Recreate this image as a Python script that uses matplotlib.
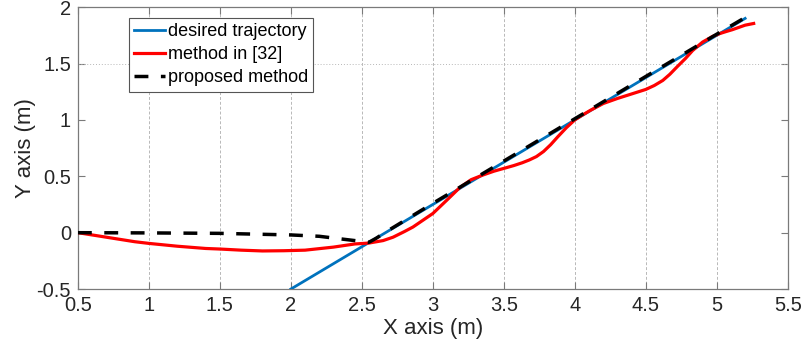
import matplotlib
matplotlib.use("Agg")
import matplotlib.pyplot as plt

plt.rcParams['font.family'] = ['Liberation Sans', 'DejaVu Sans']
plt.rcParams['axes.unicode_minus'] = False

# desired straight-line trajectory
desired_x = [2.0, 5.2]
desired_y = [-0.5, 1.9]

# trajectory obtained with the method in [32]
ref_x = [0.5, 0.7, 0.9, 1.0, 1.2, 1.4, 1.5, 1.65, 1.8, 1.95, 2.1, 2.3, 2.45, 2.55,
         2.65, 2.72, 2.8, 2.86, 2.93, 3.0, 3.1, 3.19, 3.27, 3.35, 3.43, 3.5, 3.57,
         3.63, 3.68, 3.73, 3.78, 3.83, 3.88, 3.94, 4.0, 4.05, 4.11, 4.2, 4.3, 4.4,
         4.5, 4.56, 4.62, 4.67, 4.72, 4.78, 4.83, 4.9, 4.97, 5.02, 5.07, 5.11, 5.2,
         5.26]
ref_y = [0.0, -0.04, -0.08, -0.095, -0.12, -0.14, -0.145, -0.155, -0.162, -0.16,
         -0.155, -0.128, -0.10, -0.092, -0.07, -0.04, 0.01, 0.05, 0.11, 0.17, 0.29,
         0.40, 0.47, 0.51, 0.545, 0.57, 0.595, 0.62, 0.645, 0.675, 0.72, 0.78, 0.85,
         0.93, 1.0, 1.04, 1.085, 1.145, 1.19, 1.23, 1.27, 1.305, 1.35, 1.405, 1.47,
         1.545, 1.615, 1.69, 1.74, 1.765, 1.785, 1.80, 1.84, 1.855]

# trajectory obtained with the proposed method
prop_x = [0.5, 1.0, 1.5, 2.0, 2.2, 2.35, 2.45, 2.55, 2.6, 2.7, 3.0, 3.5, 4.0, 4.5, 5.0, 5.21]
prop_y = [0.0, -0.002, -0.006, -0.02, -0.032, -0.055, -0.07, -0.085, -0.05, 0.03,
          0.26, 0.635, 1.01, 1.385, 1.76, 1.915]

xticks = [0.5, 1, 1.5, 2, 2.5, 3, 3.5, 4, 4.5, 5, 5.5]
yticks = [-0.5, 0, 0.5, 1, 1.5, 2]

fig = plt.figure(figsize=(8.03, 3.56), dpi=100)
ax = fig.add_axes([0.097, 0.188, 0.884, 0.792])

ax.plot(desired_x, desired_y, color='#0072BD', lw=2.0, label='desired trajectory', zorder=3)
ax.plot(ref_x, ref_y, color='#FF0000', lw=2.3, label='method in [32]', zorder=4,
        solid_joinstyle='round')
ax.plot(prop_x, prop_y, color='black', lw=2.5, dashes=(4.0, 3.6),
        label='proposed method', zorder=5)

ax.set_xlim(0.5, 5.5)
ax.set_ylim(-0.5, 2)
ax.set_xticks(xticks)
ax.set_yticks(yticks)
ax.set_xticklabels([f'{t:g}' for t in xticks])
ax.set_yticklabels([f'{t:g}' for t in yticks])

# vertical grid, plus the single dotted line at y = 1.5
ax.xaxis.grid(True, color='#b8b8b8', ls=(0, (3, 2)), lw=0.7)
ax.axhline(1.5, color='#b8b8b8', ls=(0, (1, 2)), lw=0.7, zorder=1)
ax.set_axisbelow(True)

for s in ax.spines.values():
    s.set_color('#7a7a7a')
    s.set_linewidth(0.9)
ax.tick_params(direction='in', top=True, right=True, length=5, width=0.8,
               color='#7a7a7a', labelsize=14.5, labelcolor='#262626', pad=5)

ax.set_xlabel('X axis (m)', fontsize=16, color='#262626', labelpad=2)
ax.set_ylabel('Y axis (m)', fontsize=16, color='#262626', labelpad=0)

leg = ax.legend(loc='upper left', bbox_to_anchor=(0.072, 0.962), fontsize=13,
                frameon=True, fancybox=False, framealpha=1, edgecolor='#555555',
                handlelength=1.7, handletextpad=0.15, labelspacing=0.33,
                borderpad=0.3, borderaxespad=0)
leg.get_frame().set_linewidth(0.8)

fig.savefig('out.png', dpi=100)
